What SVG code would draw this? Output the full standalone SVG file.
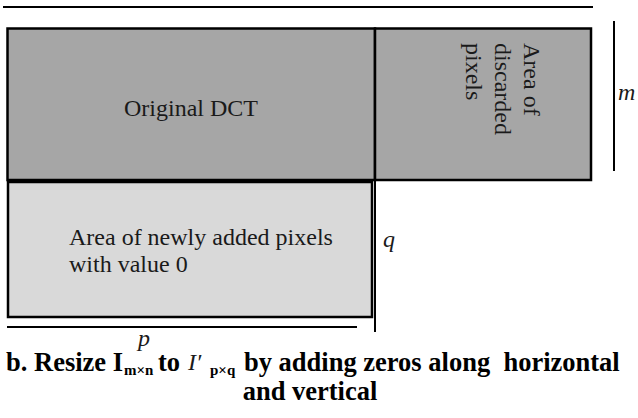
<svg xmlns="http://www.w3.org/2000/svg" width="638" height="418" viewBox="0 0 638 418">
<style>
.ln{stroke:#000;stroke-width:2;fill:none}
.t{font-family:"Liberation Serif","Times New Roman",serif;font-size:24px;fill:#1a1a1a}
.it{font-family:"Liberation Serif","Times New Roman",serif;font-style:italic;font-size:24px;fill:#1a1a1a}
.cap{font-family:"Liberation Serif","Times New Roman",serif;font-weight:bold;font-size:26.5px;fill:#000}
.sub{font-family:"Liberation Serif","Times New Roman",serif;font-weight:bold;font-size:15px;fill:#000}
</style>
<rect width="638" height="418" fill="#fff"/>
<g id="dim-lines">
<line class="ln" x1="3" y1="7" x2="593" y2="7"/>
<line class="ln" x1="614" y1="21" x2="614" y2="171"/>
<line class="ln" x1="375" y1="28" x2="375" y2="332"/>
<line class="ln" x1="7" y1="327" x2="357" y2="327"/>
</g>
<g id="original-dct">
<rect x="7.5" y="28.5" width="367.5" height="151.5" fill="#a6a6a6" stroke="#000" stroke-width="2.5"/>
<text class="t" x="191" y="116" text-anchor="middle">Original DCT</text>
</g>
<g id="discarded">
<rect x="375" y="28.5" width="216" height="151.5" fill="#a6a6a6" stroke="#000" stroke-width="2.5"/>
<g transform="translate(524,43) rotate(90)">
<text class="t" x="0" y="0">Area of</text>
<text class="t" x="0" y="29">discarded</text>
<text class="t" x="0" y="58">pixels</text>
</g>
</g>
<g id="added">
<rect x="8" y="182" width="364" height="135" fill="#d9d9d9" stroke="#000" stroke-width="2.5"/>
<text class="t" x="69" y="245">Area of newly added pixels</text>
<text class="t" x="69" y="272">with value 0</text>
</g>
<g id="labels">
<text class="it" x="618" y="100" font-size="26">m</text>
<text class="it" x="383" y="247">q</text>
<text class="it" x="138" y="346" fill="#1a1a3a">p</text>
</g>
<g id="caption">
<text class="cap" x="6" y="371">b. Resize I</text>
<text class="sub" x="124" y="375">m×n</text>
<text class="cap" x="158" y="371">to</text>
<text class="it" x="188" y="370" font-size="19">I′</text>
<text class="sub" x="210" y="375">p×q</text>
<text class="cap" x="244" y="371" xml:space="preserve">by adding zeros along  horizontal</text>
<text class="cap" x="310" y="400" text-anchor="middle">and vertical</text>
</g>
</svg>
